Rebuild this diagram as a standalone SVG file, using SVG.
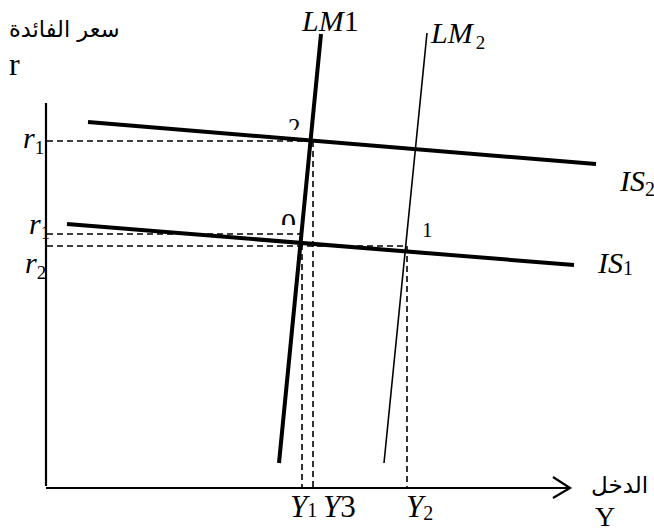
<svg xmlns="http://www.w3.org/2000/svg" width="654" height="532" viewBox="0 0 654 532">
<style>
.ax{stroke:#000;stroke-width:2.2;fill:none}
.thick{stroke:#000;stroke-width:4;fill:none;stroke-linecap:butt}
.thin{stroke:#000;stroke-width:1.6;fill:none}
.dash{stroke:#000;stroke-width:1.6;fill:none;stroke-dasharray:6,4}
.ser{font-family:"Liberation Serif","Times New Roman",serif;fill:#000}
.it{font-style:italic}
.ar{font-family:"DejaVu Sans",sans-serif;fill:#000}
</style>
<defs>
<clipPath id="c2"><rect x="280" y="100" width="40" height="30"/></clipPath>
<clipPath id="c0"><rect x="275" y="200" width="40" height="25"/></clipPath>
</defs>
<rect width="654" height="532" fill="#fff"/>
<g id="axes">
<line class="ax" x1="46" y1="103" x2="46" y2="486"/>
<line class="ax" x1="46" y1="488" x2="570" y2="488"/>
<polyline class="ax" points="553,477 570,488 553,498"/>
<text class="ar" x="9" y="37" font-size="22.5">سعر الفائدة</text>
<text class="ser" x="9" y="75" font-size="32">r</text>
<text class="ar" x="591" y="493" font-size="23">الدخل</text>
<text class="ser" x="595" y="526" font-size="28">Y</text>
</g>
<g id="connectors">
<line class="dash" x1="47" y1="141" x2="310" y2="141"/>
<line class="dash" x1="313" y1="141" x2="313" y2="487"/>
<line class="dash" x1="47" y1="234" x2="300" y2="234"/>
<line class="dash" x1="302" y1="234" x2="302" y2="487"/>
<line class="dash" x1="47" y1="246" x2="407" y2="246"/>
<line class="dash" x1="407" y1="246" x2="407" y2="487"/>
</g>
<g id="IS2">
<line class="thick" x1="88" y1="122" x2="596" y2="164"/>
<text class="ser it" x="620" y="191" font-size="30">IS<tspan font-style="normal" font-size="20" dy="5">2</tspan></text>
</g>
<g id="IS1">
<line class="thick" x1="67" y1="224" x2="574" y2="265"/>
<text class="ser it" x="598" y="273" font-size="30">IS<tspan font-style="normal" font-size="20" dy="2">1</tspan></text>
</g>
<g id="LM1">
<line class="thick" x1="321" y1="34" x2="279" y2="463"/>
<text class="ser" x="302" y="31" font-size="30"><tspan font-style="italic">LM</tspan>1</text>
</g>
<g id="LM2">
<line class="thin" x1="427" y1="33" x2="384" y2="463"/>
<text class="ser" x="431" y="43" font-size="30"><tspan font-style="italic">LM</tspan><tspan font-size="19" dx="3" dy="6">2</tspan></text>
</g>
<g id="r-labels">
<text class="ser it" x="23" y="148" font-size="30">r<tspan font-style="normal" font-size="19" dy="6">1</tspan></text>
<text class="ser it" x="29" y="234" font-size="30">r<tspan font-style="normal" font-size="19" dy="5">1</tspan></text>
<text class="ser it" x="25" y="273" font-size="30">r<tspan font-style="normal" font-size="19" dy="6">2</tspan></text>
</g>
<g id="points">
<text class="ser" x="288" y="136" font-size="25" clip-path="url(#c2)">2</text>
<text class="ser" x="281" y="233" font-size="30" clip-path="url(#c0)">0</text>
<text class="ser" x="422" y="237" font-size="21">1</text>
</g>
<g id="Y-labels">
<text class="ser it" x="290" y="517" font-size="31">Y<tspan font-style="normal" font-size="20">1</tspan></text>
<text class="ser it" x="323" y="517" font-size="31">Y<tspan font-style="normal">3</tspan></text>
<text class="ser it" x="406" y="517" font-size="31">Y<tspan font-style="normal" font-size="20" dy="3">2</tspan></text>
</g>
</svg>
